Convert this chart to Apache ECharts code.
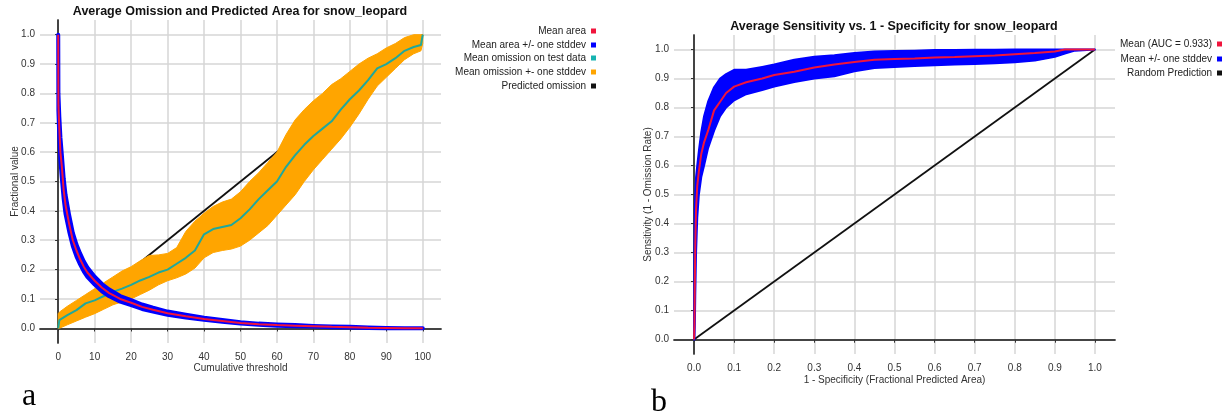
<!DOCTYPE html>
<html>
<head>
<meta charset="utf-8">
<script src="https://cdn.jsdelivr.net/npm/echarts@6/dist/echarts.min.js"></script>
<style>
html,body{margin:0;padding:0;background:#fff;}
#chart{width:1222px;height:415px;}
</style>
</head>
<body>
<div id="chart"></div>
<script>
// ---------- Chart a: omission & predicted area ----------
const thresholdTicks = [0, 10, 20, 30, 40, 50, 60, 70, 80, 90, 100];
const fractionTicks = [0, 0.1, 0.2, 0.3, 0.4, 0.5, 0.6, 0.7, 0.8, 0.9, 1.0];

const areaX = [0, 0.05, 0.3, 0.6, 1, 1.5, 2, 3, 4, 5, 6, 7, 8, 10, 12, 14, 17, 20, 23, 26, 30, 35, 40, 45, 50, 55, 60, 65, 70, 75, 80, 85, 90, 95, 100];
const areaMean = [1.0, 0.76, 0.68, 0.6, 0.55, 0.47, 0.42, 0.355, 0.30, 0.265, 0.235, 0.21, 0.19, 0.162, 0.138, 0.12, 0.1, 0.087, 0.073, 0.063, 0.051, 0.041, 0.032, 0.025, 0.018, 0.014, 0.011, 0.009, 0.007, 0.005, 0.004, 0.002, 0.001, 0, 0];
const areaUpper = [1.0, 0.8, 0.72, 0.65, 0.59, 0.51, 0.455, 0.385, 0.325, 0.285, 0.255, 0.228, 0.207, 0.176, 0.151, 0.132, 0.11, 0.096, 0.081, 0.07, 0.057, 0.046, 0.036, 0.028, 0.021, 0.016, 0.013, 0.011, 0.008, 0.006, 0.005, 0.003, 0.001, 0, 0];
const areaLower = [1.0, 0.74, 0.65, 0.57, 0.51, 0.44, 0.39, 0.33, 0.28, 0.245, 0.218, 0.194, 0.175, 0.149, 0.126, 0.109, 0.091, 0.079, 0.066, 0.057, 0.046, 0.037, 0.029, 0.022, 0.016, 0.012, 0.009, 0.007, 0.006, 0.004, 0.003, 0.001, 0, 0, 0];

const omX = [0, 0.3, 2.5, 5, 7.5, 10, 12.5, 15, 17.5, 20, 22.5, 25, 27.5, 30, 32.5, 35, 37.5, 40, 42.5, 45, 47.5, 50, 52.5, 55, 57.5, 60, 62.5, 65, 67.5, 70, 72.5, 75, 77.5, 80, 82.5, 85, 87.5, 90, 92.5, 95, 97.5, 99.5, 100];
const omMean = [0, 0.028, 0.045, 0.062, 0.085, 0.095, 0.11, 0.124, 0.135, 0.148, 0.163, 0.175, 0.19, 0.2, 0.22, 0.24, 0.265, 0.32, 0.338, 0.345, 0.352, 0.375, 0.405, 0.44, 0.47, 0.5, 0.55, 0.59, 0.625, 0.655, 0.68, 0.705, 0.745, 0.78, 0.81, 0.845, 0.885, 0.9, 0.92, 0.945, 0.958, 0.965, 1.0];
const omUpper = [0.05, 0.055, 0.075, 0.095, 0.115, 0.135, 0.155, 0.175, 0.195, 0.21, 0.23, 0.248, 0.25, 0.255, 0.275, 0.33, 0.365, 0.392, 0.415, 0.43, 0.44, 0.465, 0.5, 0.53, 0.565, 0.6, 0.66, 0.71, 0.745, 0.775, 0.8, 0.83, 0.85, 0.875, 0.9, 0.92, 0.935, 0.955, 0.97, 0.99, 1.0, 1.0, 1.0];
const omLower = [0, 0, 0.012, 0.025, 0.038, 0.05, 0.065, 0.08, 0.09, 0.1, 0.115, 0.13, 0.148, 0.162, 0.172, 0.185, 0.205, 0.24, 0.258, 0.265, 0.27, 0.28, 0.3, 0.325, 0.35, 0.385, 0.42, 0.455, 0.5, 0.54, 0.575, 0.61, 0.645, 0.685, 0.73, 0.78, 0.825, 0.855, 0.885, 0.915, 0.935, 0.945, 0.97];

const predX = [0, 100];
const predY = [0, 1];

// ---------- Chart b: ROC ----------
const rocTicks = [0, 0.1, 0.2, 0.3, 0.4, 0.5, 0.6, 0.7, 0.8, 0.9, 1.0];
const rocX = [0, 0.001, 0.002, 0.003, 0.005, 0.008, 0.012, 0.018, 0.025, 0.035, 0.05, 0.065, 0.08, 0.1, 0.13, 0.17, 0.2, 0.25, 0.3, 0.35, 0.4, 0.45, 0.5, 0.55, 0.6, 0.65, 0.7, 0.75, 0.8, 0.85, 0.9, 0.925, 0.95, 1.0];
const rocMean = [0, 0.05, 0.2, 0.32, 0.45, 0.53, 0.58, 0.64, 0.68, 0.72, 0.79, 0.82, 0.85, 0.872, 0.887, 0.9, 0.912, 0.923, 0.938, 0.948, 0.957, 0.965, 0.967, 0.969, 0.972, 0.974, 0.977, 0.979, 0.984, 0.988, 0.993, 1.0, 1.0, 1.0];
const rocUpper = [0, 0.3, 0.45, 0.5, 0.56, 0.6, 0.65, 0.715, 0.77, 0.82, 0.87, 0.9, 0.915, 0.93, 0.93, 0.94, 0.948, 0.965, 0.975, 0.98, 0.988, 0.993, 0.995, 0.996, 0.998, 0.998, 0.999, 0.999, 1.0, 1.0, 1.0, 1.0, 1.0, 1.0];
const rocLower = [0, 0, 0.05, 0.15, 0.3, 0.42, 0.5, 0.56, 0.6, 0.66, 0.72, 0.77, 0.8, 0.825, 0.846, 0.86, 0.872, 0.888, 0.9, 0.908, 0.925, 0.936, 0.94, 0.943, 0.946, 0.948, 0.95, 0.953, 0.956, 0.962, 0.975, 0.986, 0.996, 1.0];
const randX = [0, 1];
const randY = [0, 1];

const zip = (xs, ys) => xs.map((x, i) => [x, ys[i]]);

const FONT = '"Liberation Sans", Arial, sans-serif';
const RED = '#f0143c', BLUE = '#0000ff', ORANGE = '#ffa500', TEAL = '#1fa89c', BLACK = '#111111';

function mainX(grid, min, max, ticks, name, gap, margin, fmt) {
  return {
    type: 'value', gridIndex: grid, min: min, max: max, position: 'bottom',
    name: name, nameLocation: 'middle', nameGap: gap, nameMoveOverlap: false,
    nameTextStyle: {fontSize: 10, color: '#333', fontFamily: FONT},
    axisLine: {show: true, lineStyle: {color: '#555', width: 1.5}},
    axisTick: {show: true, customValues: ticks, length: 3, lineStyle: {color: '#555'}},
    axisLabel: {customValues: ticks, fontSize: 10, color: '#333', margin: margin, fontFamily: FONT, formatter: fmt},
    splitLine: {show: true, lineStyle: {color: '#d6d6d6', width: 1.5}}
  };
}
function borderX(grid, min, max, ticks) {
  return {
    type: 'value', gridIndex: grid, min: min, max: max, position: 'top',
    axisLine: {show: true, lineStyle: {color: '#333', width: 1.5}},
    axisTick: {show: true, inside: true, customValues: ticks, length: 3, lineStyle: {color: '#333'}},
    axisLabel: {show: false}, splitLine: {show: false}
  };
}
function mainY(grid, ticks, name, gap, margin) {
  return {
    type: 'value', gridIndex: grid, min: -0.05, max: 1.05, position: 'left',
    name: name, nameLocation: 'middle', nameGap: gap, nameRotate: 90, nameMoveOverlap: false,
    nameTextStyle: {fontSize: 10, color: '#333', fontFamily: FONT},
    axisLine: {show: true, lineStyle: {color: '#555', width: 1.5}},
    axisTick: {show: true, customValues: ticks, length: 3, lineStyle: {color: '#555'}},
    axisLabel: {customValues: ticks, fontSize: 10, color: '#333', margin: margin, fontFamily: FONT, formatter: v => v.toFixed(1)},
    splitLine: {show: true, lineStyle: {color: '#d6d6d6', width: 1.5}}
  };
}
function borderY(grid, ticks) {
  return {
    type: 'value', gridIndex: grid, min: -0.05, max: 1.05, position: 'right',
    axisLine: {show: true, lineStyle: {color: '#333', width: 1.5}},
    axisTick: {show: true, inside: true, customValues: ticks, length: 3, lineStyle: {color: '#333'}},
    axisLabel: {show: false}, splitLine: {show: false}
  };
}
function legendItem(name, color, right, top) {
  return {
    data: [{name: name, icon: 'rect', itemStyle: {color: color, borderWidth: 0}}],
    orient: 'vertical', align: 'right', right: right, top: top,
    itemWidth: 5, itemHeight: 5, padding: 0, selectedMode: false,
    lineStyle: {width: 0},
    textStyle: {fontSize: 10, color: '#222', fontFamily: FONT}
  };
}
function line(name, xi, yi, data, color, width, z) {
  return {
    type: 'line', name: name, xAxisIndex: xi, yAxisIndex: yi, data: data, z: z,
    symbol: 'none', showSymbol: false, silent: true, animation: false,
    lineStyle: {color: color, width: width}, itemStyle: {color: color}
  };
}
// filled band between a lower and an upper curve, placed through the axes' scales
function band(name, xi, yi, xs, lo, hi, color, strokeW, z) {
  return {
    type: 'custom', name: name, xAxisIndex: xi, yAxisIndex: yi, silent: true, animation: false, z: z,
    data: xs.map((x, i) => [x, lo[i], hi[i]]),
    encode: {x: 0, y: [1, 2]},
    itemStyle: {color: color},
    renderItem: function (params, api) {
      if (params.dataIndex !== 0) return null;
      const top = xs.map((x, i) => api.coord([x, hi[i]]));
      const bot = xs.map((x, i) => api.coord([x, lo[i]])).reverse();
      return {
        type: 'polygon',
        shape: {points: top.concat(bot)},
        style: {fill: color, stroke: color, lineWidth: strokeW, lineJoin: 'round'}
      };
    }
  };
}

const option = {
  animation: false,
  backgroundColor: '#ffffff',
  textStyle: {fontFamily: FONT},
  title: [
    {text: 'Average Omission and Predicted Area for snow_leopard', left: 240, top: 5, padding: 0, textAlign: 'center',
     textStyle: {fontSize: 12.5, fontWeight: 'bold', color: '#111', fontFamily: FONT}},
    {text: 'Average Sensitivity vs. 1 - Specificity for snow_leopard', left: 894, top: 20, padding: 0, textAlign: 'center',
     textStyle: {fontSize: 12.5, fontWeight: 'bold', color: '#111', fontFamily: FONT}}
  ],
  legend: [
    legendItem('Mean area', RED, 626, 26),
    legendItem('Mean area +/- one stddev', BLUE, 626, 40),
    legendItem('Mean omission on test data', '#16b3b0', 626, 53),
    legendItem('Mean omission +- one stddev', ORANGE, 626, 67),
    legendItem('Predicted omission', BLACK, 626, 81),
    legendItem('Mean (AUC = 0.933)', RED, 0, 39),
    legendItem('Mean +/- one stddev', BLUE, 0, 54),
    legendItem('Random Prediction', BLACK, 0, 68)
  ],
  grid: [
    {left: 40, top: 20, width: 401, height: 323},
    {left: 674, top: 35, width: 441, height: 319}
  ],
  xAxis: [
    mainX(0, -5, 105, thresholdTicks, 'Cumulative threshold', 20, 9, v => String(v)),
    borderX(0, -5, 105, thresholdTicks),
    mainX(1, -0.05, 1.05, rocTicks, '1 - Specificity (Fractional Predicted Area)', 21, 9, v => v.toFixed(1)),
    borderX(1, -0.05, 1.05, rocTicks)
  ],
  yAxis: [
    mainY(0, fractionTicks, 'Fractional value', 20, 5),
    borderY(0, fractionTicks),
    mainY(1, fractionTicks, 'Sensitivity (1 - Omission Rate)', 21, 5),
    borderY(1, fractionTicks)
  ],
  series: [
    // chart a
    line('Predicted omission', 0, 0, zip(predX, predY), BLACK, 1.8, 1),
    band('Mean omission +- one stddev', 0, 0, omX, omLower, omUpper, ORANGE, 1, 2),
    line('Mean omission on test data', 0, 0, zip(omX, omMean), TEAL, 2, 3),
    band('Mean area +/- one stddev', 0, 0, areaX, areaLower, areaUpper, BLUE, 4, 4),
    line('Mean area', 0, 0, zip(areaX, areaMean), RED, 2, 5),
    // chart b
    line('Random Prediction', 2, 2, zip(randX, randY), BLACK, 1.8, 1),
    band('Mean +/- one stddev', 2, 2, rocX, rocLower, rocUpper, BLUE, 2, 4),
    line('Mean (AUC = 0.933)', 2, 2, zip(rocX, rocMean), RED, 2, 5)
  ],
  graphic: [
    {type: 'text', left: 22, top: 381, style: {text: 'a', font: '32px "Liberation Serif", "Times New Roman", serif', fill: '#000'}},
    {type: 'text', left: 651, top: 387, style: {text: 'b', font: '32px "Liberation Serif", "Times New Roman", serif', fill: '#000'}}
  ]
};

const chart = echarts.init(document.getElementById('chart'), null, {renderer: 'canvas'});
chart.setOption(option);
</script>
</body>
</html>
